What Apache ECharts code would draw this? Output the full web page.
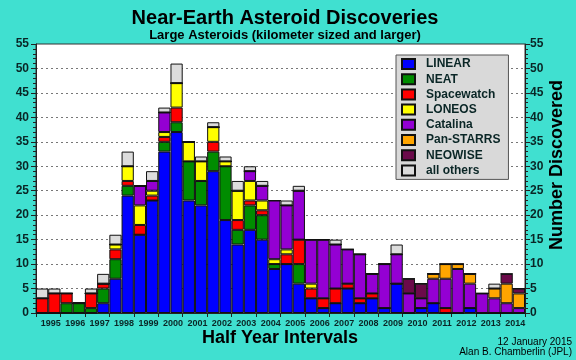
<!DOCTYPE html>
<html>
<head>
<meta charset="utf-8">
<script src="https://cdn.jsdelivr.net/npm/echarts@6/dist/echarts.min.js"></script>
<style>
html,body{margin:0;padding:0;background:#40e0d0;}
#c{width:576px;height:360px;}
</style>
</head>
<body>
<div id="c"></div>
<script>
const years = ['1995','1996','1997','1998','1999','2000','2001','2002','2003','2004','2005','2006','2007','2008','2009','2010','2011','2012','2013','2014'];
const halfYears = [];
years.forEach(y => { halfYears.push(y + ' H1'); halfYears.push(y + ' H2'); });

const linear     = [0,0,0,0,0,2,7,24,16,23,33,37,23,22,29,19,14,17,15,9,10,6,3,1,2,5,2,3,1,6,0,1,2,0,0,1,0,0,0,0];
const neat       = [0,0,2,2,1,3,4,2,0,0,2,2,8,5,4,11,3,5,5,1,0,4,0,0,0,0,0,0,0,0,0,0,0,0,0,0,0,0,0,0];
const spacewatch = [3,4,2,0,3,1,2,1,2,1,1,3,0,0,2,0,2,1,1,0,2,5,2,2,3,1,1,1,0,0,0,0,0,1,0,0,0,0,0,0];
const loneos     = [0,0,0,0,0,0,1,3,4,1,1,5,4,4,3,1,6,4,2,1,1,0,1,0,0,0,0,0,0,0,0,0,0,0,0,0,0,0,0,0];
const catalina   = [0,0,0,0,0,0,0,0,4,2,4,0,0,0,0,0,0,2,3,12,9,10,9,12,9,7,9,4,9,6,4,2,5,6,9,5,4,3,2,1];
const panstarrs  = [0,0,0,0,0,0,0,0,0,0,0,0,0,0,0,0,0,0,0,0,0,0,0,0,0,0,0,0,0,0,0,0,1,3,1,2,0,2,4,3];
const neowise    = [0,0,0,0,0,0,0,0,0,0,0,0,0,0,0,0,0,0,0,0,0,0,0,0,0,0,0,0,0,0,3,3,0,0,0,0,0,0,2,1];
const others     = [2,1,0,0,1,2,2,3,0,2,1,4,0,1,1,1,2,1,1,0,1,1,0,0,1,0,0,0,0,2,0,0,0,0,0,0,0,1,0,0];

const seriesDefs = [
  ['LINEAR', linear, '#0000ff'],
  ['NEAT', neat, '#008c00'],
  ['Spacewatch', spacewatch, '#ff0000'],
  ['LONEOS', loneos, '#ffff00'],
  ['Catalina', catalina, '#9400d3'],
  ['Pan-STARRS', panstarrs, '#ffa500'],
  ['NEOWISE', neowise, '#6b0a4a'],
  ['all others', others, '#dcdcdc']
];

const chart = echarts.init(document.getElementById('c'), null, {renderer:'canvas'});
const txt = '#0a2626';
const font = 'Liberation Sans, Arial, Helvetica, sans-serif';

chart.setOption({
  backgroundColor: '#40e0d0',
  animation: false,
  textStyle: {fontFamily: font},
  title: [
    {text: 'Near-Earth Asteroid Discoveries', left: 280, top: 3, textAlign: 'center',
     textStyle: {fontSize: 20, fontWeight: 'bold', color: '#000', fontFamily: font}},
    {text: 'Large Asteroids (kilometer sized and larger)', left: 280, top: 24, textAlign: 'center',
     textStyle: {fontSize: 13, fontWeight: 'bold', color: '#000', fontFamily: font}}
  ],
  grid: {left: 36, right: 51, top: 44, bottom: 47, show: true, backgroundColor: '#ffffff', borderColor: '#333', borderWidth: 1},
  legend: {
    orient: 'vertical', left: 396, top: 55,
    backgroundColor: '#d9d9d9', borderColor: '#555', borderWidth: 1,
    padding: [3, 8, 3, 5],
    itemWidth: 13, itemHeight: 10, itemGap: 3.2,
    icon: 'rect',
    textStyle: {fontSize: 12, fontWeight: 'bold', color: txt, fontFamily: font, lineHeight: 10, padding: [0,0,0,6]},
    data: seriesDefs.map(s => s[0])
  },
  xAxis: [
    {type: 'category', data: halfYears, show: false, boundaryGap: true},
    {type: 'category', data: years, position: 'bottom', boundaryGap: true,
     axisLine: {show: true, lineStyle: {color: '#222', width: 1}},
     axisTick: {show: true, length: 4, lineStyle: {color: '#222'}},
     axisLabel: {fontSize: 9, fontWeight: 'bold', color: txt, margin: 6, padding: [0,0,0,5], interval: 0},
     splitLine: {show: false}}
  ],
  yAxis: [
    {type: 'value', min: 0, max: 55, interval: 5, position: 'left',
     axisLine: {show: true, lineStyle: {color: '#222'}},
     axisTick: {show: true, length: 5, lineStyle: {color: '#222'}},
     minorTick: {show: true, splitNumber: 5, length: 3, lineStyle: {color: '#222'}},
     axisLabel: {fontSize: 12, fontWeight: 'bold', color: txt, margin: 7},
     splitLine: {show: true, showMinLine: false, showMaxLine: false, lineStyle: {color: '#777', type: [2, 3], width: 1}}},
    {type: 'value', min: 0, max: 55, interval: 5, position: 'right',
     axisLine: {show: true, lineStyle: {color: '#222'}},
     axisTick: {show: true, length: 5, lineStyle: {color: '#222'}},
     minorTick: {show: true, splitNumber: 5, length: 3, lineStyle: {color: '#222'}},
     axisLabel: {fontSize: 12, fontWeight: 'bold', color: txt, margin: 5},
     splitLine: {show: false}}
  ],
  graphic: [
    {type: 'text', left: 202, top: 329, style: {text: 'Half Year Intervals', fontSize: 18, fontWeight: 'bold', fill: '#000', fontFamily: font}},
    {type: 'text', x: 557, y: 165, rotation: Math.PI/2, style: {text: 'Number Discovered', fontSize: 18, fontWeight: 'bold', fill: '#000', fontFamily: font, align: 'center', verticalAlign: 'middle'}},
    {type: 'text', right: 4, top: 337, style: {text: '12 January 2015', fontSize: 10, fill: '#000', fontFamily: font}},
    {type: 'text', right: 4, top: 347, style: {text: 'Alan B. Chamberlin (JPL)', fontSize: 10, fill: '#000', fontFamily: font}}
  ],
  series: seriesDefs.map(s => ({
    name: s[0], type: 'bar', stack: 'total', xAxisIndex: 0, yAxisIndex: 0,
    barWidth: '100%', data: s[1],
    itemStyle: {color: s[2], borderColor: '#111', borderWidth: 1}
  }))
});
</script>
</body>
</html>
